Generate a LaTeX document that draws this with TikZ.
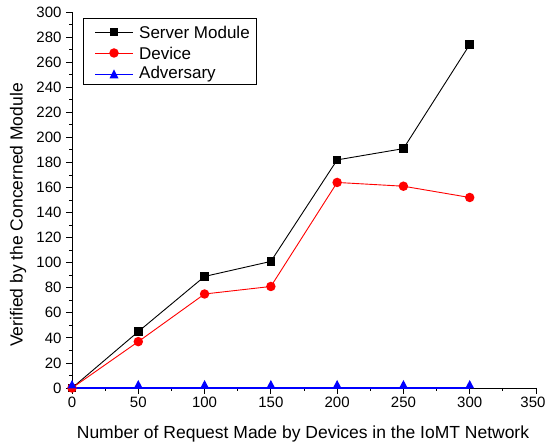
\documentclass[tikz,border=0pt]{standalone}
\usepackage{fontspec}
\setmainfont{Liberation Sans}
\usetikzlibrary{positioning,calc}

\begin{document}
\begin{tikzpicture}[x=1pt,y=1pt,
    server mark/.style={rectangle,fill=black,inner sep=0pt,minimum size=8.5pt},
    device mark/.style={circle,fill=red,inner sep=0pt,minimum size=9.5pt},
    tick label/.style={font=\fontsize{15}{17}\selectfont},
    title label/.style={font=\fontsize{17.5}{20}\selectfont},
    legend label/.style={font=\fontsize{17}{19}\selectfont,anchor=west,inner sep=0pt}]

  \useasboundingbox (0,0) rectangle (546,446);

  % plot area, data units
  \begin{scope}[shift={(72,58)},x=1.3257pt,y=1.2533pt]
    % axes
    \draw[line width=0.8pt] (0,0) -- (350,0);
    \draw[line width=0.8pt] (0,0) -- (0,300);
    \foreach \xx in {0,50,...,350}
      \draw[line width=0.8pt] (\xx,0) -- ++(0,-6pt);
    \foreach \xx in {0,50,...,300}
      \node[tick label,below] (xl\xx) at (\xx,-5pt) {\xx};
    \node[tick label,below,xshift=-3pt] (xl350) at (350,-5pt) {350};
    \foreach \xx in {25,75,...,325}
      \draw[line width=0.8pt] (\xx,0) -- ++(0,-3.5pt);
    \foreach \yy in {0,20,...,300} {
      \draw[line width=0.8pt] (0,\yy) -- ++(-6pt,0);
      \node[tick label,left] (yl\yy) at (-7pt,\yy) {\yy};
    }
    \foreach \yy in {10,30,...,290}
      \draw[line width=0.8pt] (0,\yy) -- ++(-3.5pt,0);

    % data
    \foreach \i/\xx/\ys/\yd in {1/0/0/0,2/50/45/37,3/100/89/75,4/150/101/81,5/200/182/164,6/250/191/161,7/300/274/152} {
      \coordinate (s\i) at (\xx,\ys);
      \coordinate (d\i) at (\xx,\yd);
      \coordinate (a\i) at (\xx,0);
    }
    \draw[black,line width=0.9pt] (s1) -- (s2) -- (s3) -- (s4) -- (s5) -- (s6) -- (s7);
    \draw[red,line width=0.9pt] (d1) -- (d2) -- (d3) -- (d4) -- (d5) -- (d6) -- (d7);
    \draw[blue,line width=1.1pt] (a1) -- (a2) -- (a3) -- (a4) -- (a5) -- (a6) -- (a7);
    \foreach \i in {1,...,7} {
      \node[server mark] (sm\i) at (s\i) {};
      \node[device mark] (dm\i) at (d\i) {};
      \fill[blue] ($(a\i)+(-4.5pt,-0.5pt)$) -- ($(a\i)+(4.5pt,-0.5pt)$) -- ($(a\i)+(0,8pt)$) -- cycle;
    }
  \end{scope}

  % axis titles
  \node[title label] (xtitle) at (303,12) {Number of Request Made by Devices in the IoMT Network};
  \node[title label,rotate=90] (ytitle) at (18,231) {Verified by the Concerned Module};

  % legend
  \draw[line width=0.8pt] (83,362) rectangle (256,428);
  \coordinate (ls1) at (95,414);
  \coordinate (le1) at (133,414);
  \coordinate (ls2) at (95,393);
  \coordinate (le2) at (133,393);
  \coordinate (ls3) at (95,372);
  \coordinate (le3) at (133,372);
  \draw[black,line width=0.9pt] (ls1) -- (le1);
  \draw[red,line width=0.9pt] (ls2) -- (le2);
  \draw[blue,line width=0.9pt] (ls3) -- (le3);
  \node[server mark] (lm1) at (114,414) {};
  \node[device mark] (lm2) at (114,393) {};
  \fill[blue] (109.5,367.5) -- (118.5,367.5) -- (114,376.5) -- cycle;
  \node[legend label] (lt1) at (139,414) {Server Module};
  \node[legend label] (lt2) at (139,393) {Device};
  \node[legend label] (lt3) at (139,372) {Adversary};
\end{tikzpicture}
\end{document}
